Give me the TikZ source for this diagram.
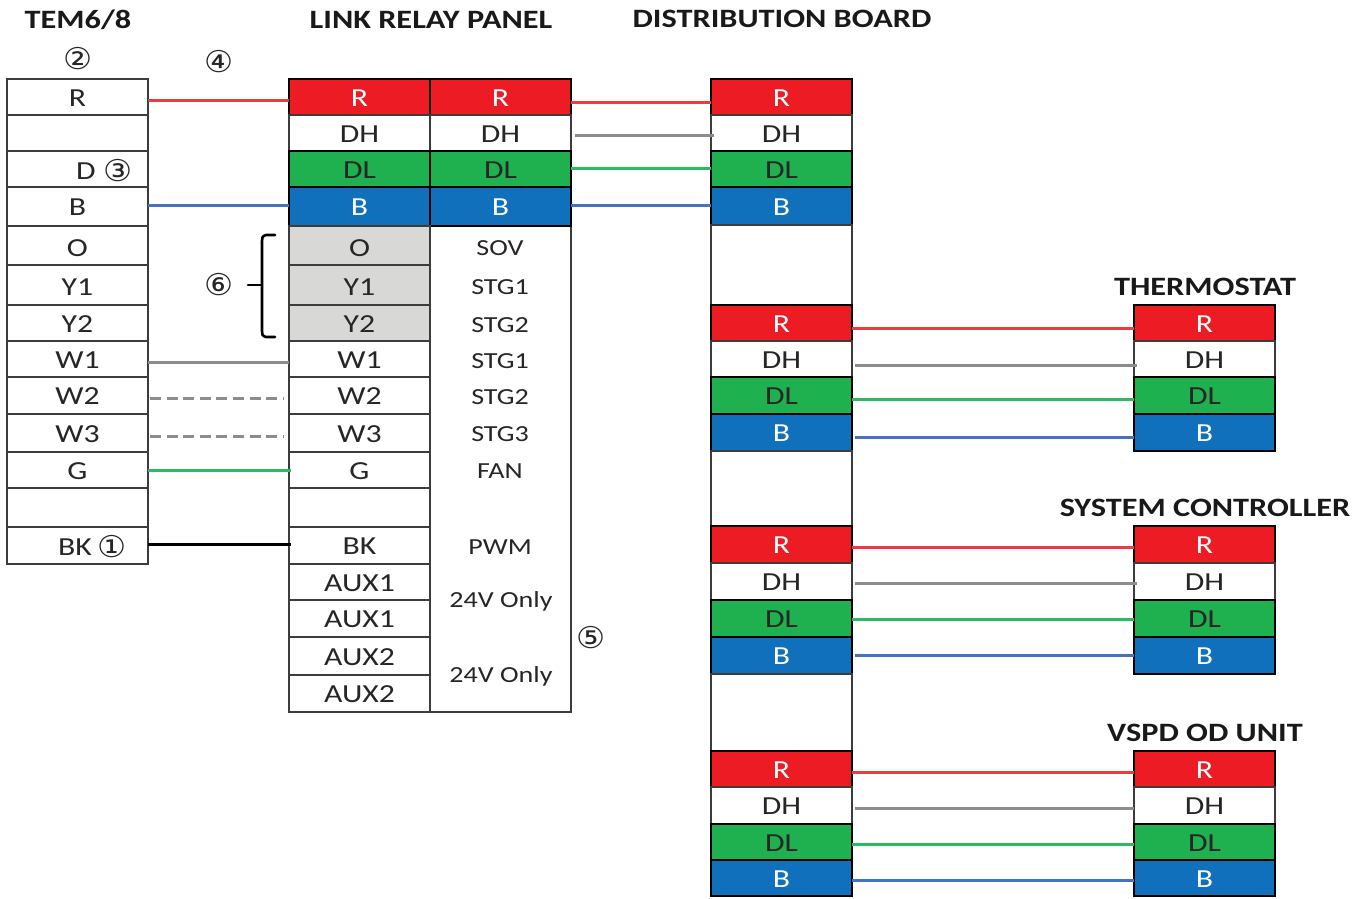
\documentclass[tikz,border=0pt]{standalone}
\usepackage{fontspec}
\setmainfont[FakeStretch=1.22]{Carlito}
\newfontfamily\symfont[FakeStretch=1.08]{DejaVu Sans}
\usetikzlibrary{calc}
\definecolor{cred}{HTML}{ED1C24}
\definecolor{cgreen}{HTML}{1FB04F}
\definecolor{cblue}{HTML}{1170BB}
\definecolor{cgrey}{HTML}{D8D8D6}
\definecolor{wred}{HTML}{F03A42}
\definecolor{wgreen}{HTML}{2CBB62}
\definecolor{wblue}{HTML}{4472C4}
\definecolor{wgrey}{HTML}{8C8C8C}
\definecolor{edge}{HTML}{3C3C3C}
\definecolor{ink}{HTML}{262626}
\tikzset{
  x=1pt,y=-1pt,
  cellbase/.style={draw=edge,line width=2pt,inner sep=0pt,outer sep=0pt,text=ink,
    font=\fontsize{26}{30}\selectfont,text height=18pt,text depth=0pt},
  plain/.style={cellbase,fill=white},
  low/.style={text height=21pt},
  redc/.style={cellbase,draw=black,fill=cred,text=white},
  greenc/.style={cellbase,draw=black,fill=cgreen,text=black!85},
  bluec/.style={cellbase,draw=black,fill=cblue,text=white},
  whitec/.style={cellbase,fill=white},
  greyc/.style={cellbase,fill=cgrey},
  side/.style={inner sep=0pt,text=ink,font=\fontsize{23}{27}\selectfont,text height=15pt,text depth=0pt},
  title/.style={inner sep=0pt,text=black!90,font=\fontsize{26.5}{31}\bfseries\selectfont},
  num/.style={inner sep=0pt,text=ink,font=\fontsize{30}{34}\symfont\selectfont},
  dashwire/.style={line width=3pt,draw=wgrey,dash pattern=on 11pt off 5.6pt},
  tiewire/.style={line width=3pt,draw=#1}
}
\newcommand{\cell}[7]{%
  \pgfmathsetmacro{\cx}{(#2+#3)/2}\pgfmathsetmacro{\cy}{(#4+#5)/2}%
  \pgfmathsetmacro{\cw}{#3-#2}\pgfmathsetmacro{\ch}{#5-#4}%
  \node[#6,minimum width=\cw pt,minimum height=\ch pt] (#1) at (\cx,\cy) {#7};}
\newcommand{\fourrows}[7]{%
  \cell{#1R}{#2}{#3}{#4}{#5}{redc}{R}
  \cell{#1DH}{#2}{#3}{#5}{#6}{whitec}{DH}
  \cell{#1DL}{#2}{#3}{#6}{#7}{greenc}{DL}
  \fourrowsB{#1}{#2}{#3}{#7}}
\newcommand{\fourrowsB}[5]{\cell{#1B}{#2}{#3}{#4}{#5}{bluec}{B}}
\begin{document}
\begin{tikzpicture}
\useasboundingbox (0,0) rectangle (1369,898);
% titles
\node[title] (t1) at (78,20) {TEM6/8};
\node[title] (t2) at (431,20) {LINK RELAY PANEL};
\node[title] (t3) at (782,19) {DISTRIBUTION BOARD};
\node[title] (t4) at (1205,287) {THERMOSTAT};
\node[title] (t5) at (1205,508) {SYSTEM CONTROLLER};
\node[title] (t6) at (1205,733) {VSPD OD UNIT};
% left table
\cell{aR}{7}{148}{79}{115}{plain}{R}
\cell{aE}{7}{148}{115}{151}{plain}{}
\cell{aD}{7}{148}{151}{187}{plain}{}
\cell{aB}{7}{148}{187}{226}{plain}{B}
\cell{aO}{7}{148}{226}{265}{plain,low}{O}
\cell{aYa}{7}{148}{265}{305}{plain,low}{Y1}
\cell{aYb}{7}{148}{305}{341}{plain}{Y2}
\cell{aWa}{7}{148}{341}{377}{plain}{W1}
\cell{aWb}{7}{148}{377}{414}{plain}{W2}
\cell{aWc}{7}{148}{414}{452}{plain}{W3}
\cell{aG}{7}{148}{452}{488}{plain}{G}
\cell{aF}{7}{148}{488}{527}{plain}{}
\cell{aK}{7}{148}{527}{564}{plain}{}
\node[cellbase,draw=none,fill=none] (dlabel) at (86,170) {D};
\node[cellbase,draw=none,fill=none] (bklabel) at (75,546) {BK};
% relay panel, right column frame
\cell{pframe}{430}{571}{226}{712}{plain}{}
% relay panel, left column
\fourrows{p}{289}{430}{79}{115}{151}{187}{226}
\fourrows{q}{430}{571}{79}{115}{151}{187}{226}
\cell{pO}{289}{430}{226}{265}{greyc,low}{O}
\cell{pYa}{289}{430}{265}{305}{greyc,low}{Y1}
\cell{pYb}{289}{430}{305}{341}{greyc}{Y2}
\cell{pWa}{289}{430}{341}{377}{plain}{W1}
\cell{pWb}{289}{430}{377}{414}{plain}{W2}
\cell{pWc}{289}{430}{414}{452}{plain}{W3}
\cell{pG}{289}{430}{452}{488}{plain}{G}
\cell{pF}{289}{430}{488}{527}{plain}{}
\cell{pK}{289}{430}{527}{564}{plain}{BK}
\cell{pAa}{289}{430}{564}{600}{plain}{AUX1}
\cell{pAb}{289}{430}{600}{637}{plain}{AUX1}
\cell{pAc}{289}{430}{637}{675}{plain}{AUX2}
\cell{pAd}{289}{430}{675}{712}{plain}{AUX2}
% relay panel, side labels
\node[side] (s1) at (500,248) {SOV};
\node[side] (s2) at (500,287) {STG1};
\node[side] (s3) at (500,325) {STG2};
\node[side] (s4) at (500,361) {STG1};
\node[side] (s5) at (500,397) {STG2};
\node[side] (s6) at (500,434) {STG3};
\node[side] (s7) at (500,471) {FAN};
\node[side] (s8) at (500,547) {PWM};
\node[side] (s9) at (501,600) {24V Only};
\node[side] (s10) at (501,675) {24V Only};
% distribution board
\fourrows{d}{711}{852}{79}{115}{151}{187}{225}
\cell{dX}{711}{852}{225}{305}{plain}{}
\fourrows{e}{711}{852}{305}{341}{377}{414}{451}
\cell{dY}{711}{852}{451}{526}{plain}{}
\fourrows{f}{711}{852}{526}{563}{600}{637}{674}
\cell{dZ}{711}{852}{674}{751}{plain}{}
\fourrows{g}{711}{852}{751}{787}{824}{860}{896}
% right-hand units
\fourrows{u}{1134}{1275}{305}{341}{377}{414}{451}
\fourrows{v}{1134}{1275}{526}{563}{600}{637}{674}
\fourrows{w}{1134}{1275}{751}{787}{824}{860}{896}
% circled numbers
\node[num] (n1) at (112,547) {①};
\node[num] (n2) at (78,59) {②};
\node[num] (n3) at (118,171) {③};
\node[num] (n4) at (219,62) {④};
\node[num] (n5) at (591,638) {⑤};
\node[num] (n6) at (219,285) {⑥};
% brace
\coordinate (bt) at (275,235);
\coordinate (bb) at (275,337);
\coordinate (bm) at (248,285);
\draw[line width=2.6pt,black,line cap=round,line join=round]
  (bt) -- ++(-9,0) .. controls ($(bt)+(-13,1)$) and ($(bt)+(-13,3)$) .. ($(bt)+(-13,6)$) -- ($(bb)+(-13,-6)$)
  .. controls ($(bb)+(-13,-3)$) and ($(bb)+(-13,-1)$) .. ($(bb)+(-9,0)$) -- (bb);
\draw[line width=2.6pt,black,line cap=round] (bm) -- ($(bm)+(14,0)$);
% wires, TEM to relay panel
\draw[tiewire=wred] ([yshift=-3pt]aR.east) -- ([yshift=-3pt]pR.west);
\draw[tiewire=wblue] ([yshift=1.5pt]aB.east) -- ([yshift=1.5pt]pB.west);
\draw[tiewire=wgrey] ([yshift=-3pt]aWa.east) -- ([yshift=-3pt]pWa.west);
\draw[dashwire] ([xshift=2pt,yshift=-2.5pt]aWb.east) -- ([xshift=-6pt,yshift=-2.5pt]pWb.west);
\draw[dashwire] ([xshift=2pt,yshift=-3pt]aWc.east) -- ([xshift=-6pt,yshift=-3pt]pWc.west);
\draw[tiewire=wgreen] (aG.east) -- ([xshift=2pt]pG.west);
\draw[tiewire=black] ([yshift=1.5pt]aK.east) -- ([xshift=2pt,yshift=1.5pt]pK.west);
% wires, relay panel to distribution board
\draw[tiewire=wred] ([yshift=-5pt]qR.east) -- ([yshift=-5pt]dR.west);
\draw[tiewire=wgrey] ([xshift=4pt,yshift=-2pt]qDH.east) -- ([xshift=3pt,yshift=-2pt]dDH.west);
\draw[tiewire=wgreen] ([yshift=1pt]qDL.east) -- ([yshift=1pt]dDL.west);
\draw[tiewire=wblue] ([yshift=1.5pt]qB.east) -- ([yshift=1pt]dB.west);
% wires, distribution board to thermostat
\draw[tiewire=wred] ([yshift=-5pt]eR.east) -- ([yshift=-5pt]uR.west);
\draw[tiewire=wgrey] ([xshift=3pt,yshift=-6pt]eDH.east) -- ([xshift=3pt,yshift=-6pt]uDH.west);
\draw[tiewire=wgreen] ([yshift=-3.5pt]eDL.east) -- ([yshift=-3.5pt]uDL.west);
\draw[tiewire=wblue] ([xshift=3pt,yshift=-4.5pt]eB.east) -- ([yshift=-4.5pt]uB.west);
% wires, distribution board to system controller
\draw[tiewire=wred] ([yshift=-2.5pt]fR.east) -- ([yshift=-2.5pt]vR.west);
\draw[tiewire=wgrey] ([xshift=3pt,yshift=-1.5pt]fDH.east) -- ([xshift=3pt,yshift=-1.5pt]vDH.west);
\draw[tiewire=wgreen] ([yshift=-.5pt]fDL.east) -- ([yshift=-.5pt]vDL.west);
\draw[tiewire=wblue] ([xshift=3pt,yshift=.5pt]fB.east) -- ([yshift=.5pt]vB.west);
% wires, distribution board to VSPD OD unit
\draw[tiewire=wred] ([yshift=-3pt]gR.east) -- ([yshift=-3pt]wR.west);
\draw[tiewire=wgrey] ([xshift=3pt,yshift=-2.5pt]gDH.east) -- ([yshift=-2.5pt]wDH.west);
\draw[tiewire=wgreen] ([yshift=-2pt]gDL.east) -- ([yshift=-2pt]wDL.west);
\draw[tiewire=wblue] ([yshift=-2pt]gB.east) -- ([yshift=-2pt]wB.west);
\end{tikzpicture}
\end{document}
